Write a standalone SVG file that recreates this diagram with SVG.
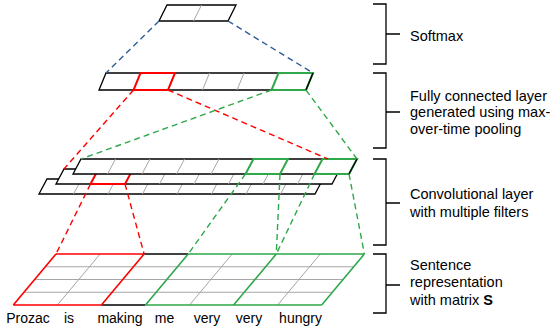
<svg xmlns="http://www.w3.org/2000/svg" width="550" height="331" viewBox="0 0 550 331">
<style>
.bg{fill:#ffffff}
.box{fill:#ffffff;stroke:#000000;stroke-width:1.3;stroke-linejoin:miter}
.grid{stroke:#a6a6a6;stroke-width:1;fill:none}
.blk{stroke:#000000;stroke-width:1.3;fill:none}
.red{stroke:#ff0000;stroke-width:1.6;fill:none}
.grn{stroke:#2ea84a;stroke-width:1.6;fill:none}
.redc{stroke:#ff0000;stroke-width:2;fill:none}
.grnc{stroke:#2ea84a;stroke-width:2;fill:none}
.dash{fill:none;stroke-width:1.4;stroke-dasharray:6 4}
.dblue{stroke:#2e5c9a}
.dred{stroke:#ff0000}
.dgrn{stroke:#2ea84a}
.brk{fill:none;stroke:#000000;stroke-width:1.3}
text{font-family:"Liberation Sans",Arial,sans-serif;font-size:14px;fill:#000000}
.lbl{font-size:14.5px}
.word{text-anchor:middle}
</style>
<rect class="bg" x="0" y="0" width="550" height="331"/>

<g id="softmax">
  <polygon class="box" points="167,5 236,5 228,21 159,21"/>
  <line class="grid" x1="201.5" y1="5" x2="193.5" y2="21"/>
</g>

<g id="fc-layer">
  <polygon class="box" points="106,73 313,73 306,90 99,90"/>
  <line class="grid" x1="209.5" y1="73" x2="202.5" y2="90"/>
  <line class="grid" x1="244" y1="73" x2="237" y2="90"/>
  <polygon class="redc" points="140.5,73 175,73 168,90 133.5,90"/>
  <polygon class="grnc" points="278.5,73 313,73 306,90 271.5,90"/>
  <line class="blk" x1="313" y1="73" x2="306" y2="90"/>
</g>

<g id="conv-layer">
  <g id="conv-filter-3">
    <polygon class="box" points="47,179 323,179 315,194 39,194"/>
    <line class="grid" x1="81.5" y1="179" x2="73.5" y2="194"/>
    <line class="grid" x1="116" y1="179" x2="108" y2="194"/>
    <line class="grid" x1="150.5" y1="179" x2="142.5" y2="194"/>
    <line class="grid" x1="185" y1="179" x2="177" y2="194"/>
    <line class="grid" x1="219.5" y1="179" x2="211.5" y2="194"/>
    <line class="grid" x1="254" y1="179" x2="246" y2="194"/>
    <line class="grid" x1="288.5" y1="179" x2="280.5" y2="194"/>
  </g>
  <g id="conv-filter-2">
    <polygon class="box" points="64,169 340,169 332,184 56,184"/>
    <line class="grid" x1="167.5" y1="169" x2="159.5" y2="184"/>
    <line class="grid" x1="202" y1="169" x2="194" y2="184"/>
    <line class="grid" x1="236.5" y1="169" x2="228.5" y2="184"/>
    <line class="grid" x1="271" y1="169" x2="263" y2="184"/>
    <line class="grid" x1="305.5" y1="169" x2="297.5" y2="184"/>
    <polygon class="redc" points="98.5,169 133,169 125,184 90.5,184"/>
  </g>
  <g id="conv-filter-1">
    <polygon class="box" points="81,159 357,159 349,174 73,174"/>
    <line class="grid" x1="115.5" y1="159" x2="107.5" y2="174"/>
    <line class="grid" x1="150" y1="159" x2="142" y2="174"/>
    <line class="grid" x1="184.5" y1="159" x2="176.5" y2="174"/>
    <line class="grid" x1="219" y1="159" x2="211" y2="174"/>
    <polygon class="grnc" points="253.5,159 288,159 280,174 245.5,174"/>
    <polygon class="grnc" points="322.5,159 357,159 349,174 314.5,174"/>
    <line class="blk" x1="357" y1="159" x2="349" y2="174"/>
  </g>
</g>

<g id="sentence-matrix">
  <line class="grid" x1="45.3" y1="266.75" x2="353.7" y2="266.75"/>
  <line class="grid" x1="34.6" y1="279.5" x2="343" y2="279.5"/>
  <line class="grid" x1="24" y1="292.25" x2="332.4" y2="292.25"/>
  <line class="grid" x1="57.4" y1="305" x2="100.1" y2="254"/>
  <line class="grid" x1="189.5" y1="305" x2="232.2" y2="254"/>
  <line class="grid" x1="277.6" y1="305" x2="320.3" y2="254"/>
  <line class="blk" x1="144.1" y1="254" x2="188.2" y2="254"/>
  <line class="blk" x1="101.4" y1="305" x2="145.5" y2="305"/>
  <path class="red" d="M56,254 H144.1 M13.3,305 H101.4 M13.3,305 L56,254 M101.4,305 L144.1,254"/>
  <path class="grn" d="M188.2,254 H364.4 M145.5,305 H321.7 M145.5,305 L188.2,254 M233.6,305 L276.3,254 M321.7,305 L364.4,254"/>
</g>

<g id="words">
  <text class="word" x="28" y="322.5">Prozac</text>
  <text class="word" x="69" y="322.5">is</text>
  <text class="word" x="120" y="322.5">making</text>
  <text class="word" x="164.5" y="322.5">me</text>
  <text class="word" x="207" y="322.5">very</text>
  <text class="word" x="249" y="322.5">very</text>
  <text class="word" x="300.5" y="322.5">hungry</text>
</g>

<g id="connectors">
  <line class="dash dblue" x1="159" y1="21" x2="106" y2="73"/>
  <line class="dash dblue" x1="228" y1="21" x2="313" y2="73"/>
  <line class="dash dred" x1="133.5" y1="90" x2="64" y2="169"/>
  <line class="dash dred" x1="168" y1="90" x2="328" y2="159"/>
  <line class="dash dgrn" x1="271.5" y1="90" x2="81" y2="159"/>
  <line class="dash dgrn" x1="306" y1="90" x2="357" y2="159"/>
  <line class="dash dred" x1="90.5" y1="184" x2="56" y2="254"/>
  <line class="dash dred" x1="125" y1="184" x2="144.1" y2="254"/>
  <line class="dash dgrn" x1="245.5" y1="174" x2="188.2" y2="254"/>
  <line class="dash dgrn" x1="280" y1="174" x2="276.3" y2="254"/>
  <line class="dash dgrn" x1="314.5" y1="174" x2="276.3" y2="254"/>
  <line class="dash dgrn" x1="349" y1="174" x2="364.4" y2="254"/>
</g>

<g id="label-softmax">
  <path class="brk" d="M373,4 H386 V64 H373 M386,34 H400"/>
  <text class="lbl" x="410" y="40.5">Softmax</text>
</g>
<g id="label-fc">
  <path class="brk" d="M373,73 H386 V148 H373 M386,112 H400"/>
  <text class="lbl" x="410" y="100.7">Fully connected layer</text>
  <text class="lbl" x="410" y="117.3">generated using max-</text>
  <text class="lbl" x="410" y="134">over-time pooling</text>
</g>
<g id="label-conv">
  <path class="brk" d="M373,159 H386 V245 H373 M386,203 H400"/>
  <text class="lbl" x="410" y="199.3">Convolutional layer</text>
  <text class="lbl" x="410" y="216.7">with multiple filters</text>
</g>
<g id="label-sentence">
  <path class="brk" d="M373,254 H386 V313 H373 M386,285 H400"/>
  <text class="lbl" x="410" y="270">Sentence</text>
  <text class="lbl" x="410" y="287">representation</text>
  <text class="lbl" x="410" y="305">with matrix <tspan font-weight="bold">S</tspan></text>
</g>
</svg>
